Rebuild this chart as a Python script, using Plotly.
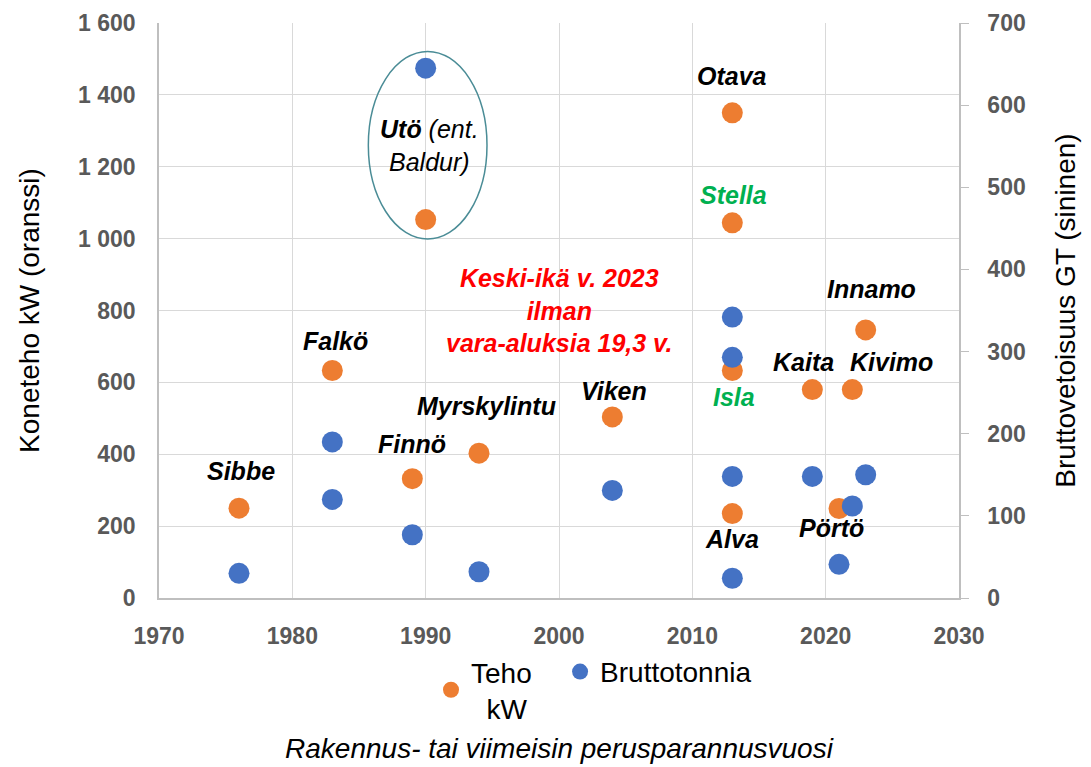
import plotly.graph_objects as go

# ---- data ----
names = ["Sibbe", "Falkö", "Finnö", "Utö", "Myrskylintu", "Viken", "Otava",
         "Stella", "Isla", "Alva", "Kaita", "Pörtö", "Kivimo", "Innamo"]
years_kw = [1976, 1983, 1989, 1990, 1994, 2004, 2013, 2013, 2013, 2013, 2019, 2021, 2022, 2023]
teho_kw = [250, 633, 332, 1053, 403, 504, 1350, 1044, 633, 235, 580, 249, 580, 746]

years_gt = [1976, 1983, 1983, 1989, 1990, 1994, 2004, 2013, 2013, 2013, 2013, 2019, 2021, 2022, 2023]
brutto_gt = [30, 190, 120, 77, 645, 32, 131, 342, 293, 148, 24, 148, 41, 112, 150]

left_ticks = [0, 200, 400, 600, 800, 1000, 1200, 1400, 1600]
left_ticktext = ["0", "200", "400", "600", "800", "1 000", "1 200", "1 400", "1 600"]
right_ticks = [0, 100, 200, 300, 400, 500, 600, 700]
x_ticks = [1970, 1980, 1990, 2000, 2010, 2020, 2030]

# label placement (pixel offsets from the orange point) and colours
label_offsets = {
    "Sibbe": (2, 37), "Falkö": (3, 30), "Finnö": (0, 35), "Myrskylintu": (7, 47),
    "Viken": (2, 26), "Otava": (0, 37), "Stella": (1, 28), "Isla": (2, -26),
    "Alva": (0, -25), "Kaita": (-9, 28), "Kivimo": (39, 28), "Innamo": (6, 41),
    "Pörtö": (-8, -19),
}
green_names = {"Stella", "Isla"}

ORANGE = "#ED7D31"
BLUE = "#4472C4"
GRID = "#D9D9D9"
AXIS = "#BFBFBF"
TICKC = "#595959"
FONT = "Liberation Sans, Arial, sans-serif"
NB = "\u00a0"

fig = go.Figure()
fig.add_trace(go.Scatter(
    x=years_kw, y=teho_kw, mode="markers", name=f"Teho{NB*3}<br>{NB*2}kW",
    marker=dict(color=ORANGE, size=21), yaxis="y", hoverinfo="skip"))
fig.add_trace(go.Scatter(
    x=years_gt, y=brutto_gt, mode="markers", name="Bruttotonnia",
    marker=dict(color=BLUE, size=21), yaxis="y2", hoverinfo="skip"))

annotations = []
for n, xv, yv in zip(names, years_kw, teho_kw):
    if n == "Utö":
        annotations.append(dict(
            x=xv, y=yv, xref="x", yref="y", xshift=4, yshift=74, showarrow=False,
            text="<b><i>Utö</i></b><i> (ent.</i><br><i>Baldur)</i>",
            font=dict(family=FONT, size=25, color="black"), align="center"))
        continue
    dx, dy = label_offsets[n]
    col = "#00B050" if n in green_names else "black"
    annotations.append(dict(
        x=xv, y=yv, xref="x", yref="y", xshift=dx, yshift=dy, showarrow=False,
        text=f"<b><i>{n}</i></b>", font=dict(family=FONT, size=25, color=col)))

annotations.append(dict(
    x=2000, y=800, xref="x", yref="y", showarrow=False, align="center",
    text="<b><i>Keski-ikä v. 2023<br>ilman<br>vara-aluksia 19,3 v.</i></b>",
    font=dict(family=FONT, size=25, color="#FF0000")))

fig.update_layout(
    width=1091, height=767,
    margin=dict(l=159, r=132, t=23, b=169, autoexpand=False),
    paper_bgcolor="white", plot_bgcolor="white",
    font=dict(family=FONT, color="black"),
    showlegend=True,
    legend=dict(orientation="h", x=0.34, xanchor="left", y=-0.085, yanchor="top",
                font=dict(family=FONT, size=28, color="black"),
                bgcolor="rgba(0,0,0,0)", itemsizing="trace", valign="middle"),
    xaxis=dict(range=[1970, 2030], tickvals=x_ticks, showgrid=True, gridcolor=GRID,
               gridwidth=1, showline=True, linecolor=AXIS, linewidth=1.5,
               zeroline=False, ticks="", ticklabelstandoff=17,
               tickfont=dict(family=FONT, size=23, color=TICKC, weight="bold"),
               title=dict(text="<i>Rakennus- tai viimeisin perusparannusvuosi</i>",
                          font=dict(family=FONT, size=28, color="black"), standoff=90)),
    yaxis=dict(range=[0, 1600], tickvals=left_ticks, ticktext=left_ticktext,
               showgrid=True, gridcolor=GRID, gridwidth=1, showline=True,
               linecolor=AXIS, linewidth=1.5, zeroline=False, ticks="",
               ticklabelstandoff=17,
               tickfont=dict(family=FONT, size=23, color=TICKC, weight="bold"),
               title=dict(text="Koneteho kW (oranssi)",
                          font=dict(family=FONT, size=28, color="black"), standoff=30)),
    yaxis2=dict(range=[0, 700], tickvals=right_ticks, overlaying="y", side="right",
                showgrid=False, showline=True, linecolor=AXIS, linewidth=1.5,
                zeroline=False, ticks="outside", ticklen=8, tickcolor=AXIS,
                ticklabelstandoff=14,
                tickfont=dict(family=FONT, size=23, color=TICKC, weight="bold"),
                title=dict(text="Bruttovetoisuus GT (sininen)",
                           font=dict(family=FONT, size=28, color="black"), standoff=31)),
    annotations=annotations,
    shapes=[dict(type="circle", xref="x", yref="y", x0=1985.7, x1=1994.6,
                 y0=999, y1=1521, line=dict(color="#4A8C96", width=1.5),
                 fillcolor="rgba(0,0,0,0)", layer="above")],
)

fig.write_html("out.html", config={"displayModeBar": False},
               post_script="document.body.style.margin='0';document.body.style.padding='0';")
